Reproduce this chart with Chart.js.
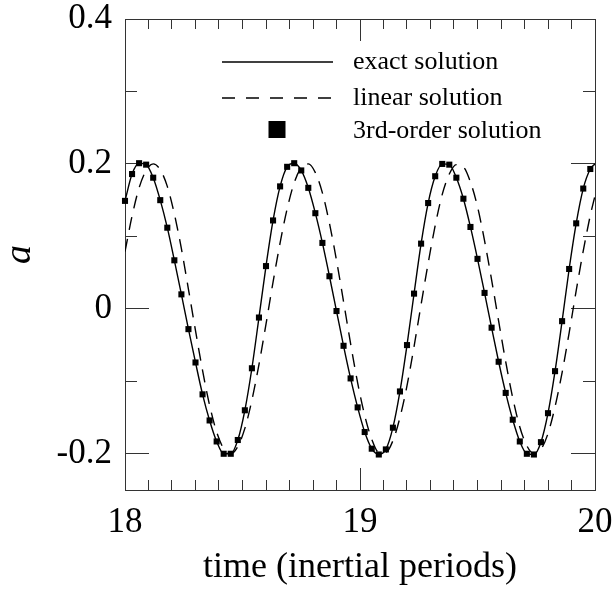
<!DOCTYPE html>
<html>
<head>
<meta charset="utf-8">
<script src="https://cdn.jsdelivr.net/npm/chart.js@4.4.1/dist/chart.umd.min.js"></script>
<style>
  html, body { margin: 0; padding: 0; background: #fff; }
  #wrap { width: 613px; height: 592px; }
</style>
</head>
<body>
<div id="wrap"><canvas id="chart" width="613" height="592"></canvas></div>
<script>
// time in inertial periods (one sample every 0.03, last one at the right edge)
const timeValues = [
  18.00, 18.03, 18.06, 18.09, 18.12, 18.15, 18.18, 18.21, 18.24, 18.27,
  18.30, 18.33, 18.36, 18.39, 18.42, 18.45, 18.48, 18.51, 18.54, 18.57,
  18.60, 18.63, 18.66, 18.69, 18.72, 18.75, 18.78, 18.81, 18.84, 18.87,
  18.90, 18.93, 18.96, 18.99, 19.02, 19.05, 19.08, 19.11, 19.14, 19.17,
  19.20, 19.23, 19.26, 19.29, 19.32, 19.35, 19.38, 19.41, 19.44, 19.47,
  19.50, 19.53, 19.56, 19.59, 19.62, 19.65, 19.68, 19.71, 19.74, 19.77,
  19.80, 19.83, 19.86, 19.89, 19.92, 19.95, 19.98, 20.00
];

// exact solution (solid line)
const exactValues = [
  0.149, 0.186, 0.201, 0.199, 0.181, 0.150, 0.112, 0.067, 0.020, -0.028,
  -0.074, -0.118, -0.154, -0.183, -0.200, -0.200, -0.181, -0.140, -0.082, -0.012,
  0.059, 0.122, 0.169, 0.196, 0.201, 0.191, 0.167, 0.132, 0.091, 0.045,
  -0.003, -0.051, -0.096, -0.136, -0.170, -0.193, -0.201, -0.194, -0.164, -0.114,
  -0.050, 0.021, 0.090, 0.146, 0.183, 0.200, 0.199, 0.181, 0.152, 0.113,
  0.069, 0.022, -0.026, -0.073, -0.116, -0.153, -0.183, -0.200, -0.201, -0.184,
  -0.144, -0.086, -0.017, 0.055, 0.118, 0.166, 0.193, 0.200
];

// linear solution (dashed line)
const linearValues = [
  0.079, 0.128, 0.167, 0.191, 0.200, 0.192, 0.169, 0.131, 0.083, 0.027,
  -0.030, -0.085, -0.133, -0.170, -0.193, -0.200, -0.190, -0.165, -0.126, -0.077,
  -0.021, 0.037, 0.091, 0.138, 0.174, 0.195, 0.200, 0.188, 0.160, 0.118,
  0.067, 0.010, -0.048, -0.102, -0.147, -0.180, -0.198, -0.198, -0.182, -0.150,
  -0.106, -0.052, 0.006, 0.063, 0.115, 0.158, 0.186, 0.199, 0.196, 0.175,
  0.141, 0.094, 0.040, -0.017, -0.073, -0.123, -0.163, -0.189, -0.200, -0.194,
  -0.172, -0.135, -0.088, -0.033, 0.025, 0.080, 0.129, 0.156
];

// 3rd-order solution (square markers, first 67 sample times)
const thirdOrderValues = [
  0.149, 0.186, 0.201, 0.199, 0.181, 0.150, 0.112, 0.067, 0.020, -0.028,
  -0.074, -0.118, -0.154, -0.183, -0.200, -0.200, -0.181, -0.140, -0.082, -0.012,
  0.059, 0.122, 0.169, 0.196, 0.201, 0.191, 0.167, 0.132, 0.091, 0.045,
  -0.003, -0.051, -0.096, -0.136, -0.170, -0.193, -0.201, -0.194, -0.164, -0.114,
  -0.050, 0.021, 0.090, 0.146, 0.183, 0.200, 0.199, 0.181, 0.152, 0.113,
  0.069, 0.022, -0.026, -0.073, -0.116, -0.153, -0.183, -0.200, -0.201, -0.184,
  -0.144, -0.086, -0.017, 0.055, 0.118, 0.166, 0.193
];

const xLabelValues = [18, 19, 20];
const yLabelValues = [-0.2, 0, 0.2, 0.4];
const legendLabels = ['exact solution', 'linear solution', '3rd-order solution'];

const SERIF = "'Liberation Serif', 'Times New Roman', Times, serif";
const FRAME = '#333';
const DASH = [13, 9];

Chart.defaults.font.family = SERIF;
Chart.defaults.color = '#000';

const toPoints = (values) => values.map((v, i) => ({ x: timeValues[i], y: v }));

// legend drawn inside the plot, offsets from the chart area's top-left corner
const insideLegend = {
  id: 'insideLegend',
  afterDatasetsDraw(chart) {
    const { ctx, chartArea: a } = chart;
    const lineX0 = a.left + 97, lineX1 = a.left + 208;
    const textX = a.left + 228;
    const rows = [a.top + 43, a.top + 79, a.top + 110.5];
    const textRows = [a.top + 43.5, a.top + 79.5, a.top + 112];

    ctx.save();
    ctx.strokeStyle = '#000';
    ctx.lineWidth = 1.4;

    ctx.beginPath();
    ctx.moveTo(lineX0, rows[0]);
    ctx.lineTo(lineX1, rows[0]);
    ctx.stroke();

    ctx.setLineDash([13, 11]);
    ctx.beginPath();
    ctx.moveTo(lineX0, rows[1]);
    ctx.lineTo(lineX1, rows[1]);
    ctx.stroke();
    ctx.setLineDash([]);

    ctx.fillStyle = '#000';
    ctx.fillRect(a.left + 152 - 8.5, rows[2] - 8.5, 17, 17);

    ctx.font = '26px ' + SERIF;
    ctx.textAlign = 'left';
    ctx.textBaseline = 'middle';
    legendLabels.forEach((label, i) => ctx.fillText(label, textX, textRows[i]));
    ctx.restore();
  }
};

// axes that only add inward tick marks and take no room
function tickOnly(position, step, length, isX) {
  return {
    type: 'linear',
    position: position,
    weight: 0,
    min: isX ? 18 : -0.25,
    max: isX ? 20 : 0.4,
    ticks: { display: false, stepSize: step, autoSkip: false, includeBounds: false },
    grid: { drawOnChartArea: false, tickLength: length, tickColor: FRAME, tickWidth: 1 },
    border: { display: false },
    afterFit: isX ? (s) => { s.height = 0; } : (s) => { s.width = 0; }
  };
}

const xTop = tickOnly('top', 0.1, -10, true);
xTop.border = { display: true, color: FRAME, width: 1 };
const yRight = tickOnly('right', 0.1, -12, false);
yRight.border = { display: true, color: FRAME, width: 1 };

new Chart(document.getElementById('chart'), {
  type: 'line',
  data: {
    datasets: [
      {
        label: '3rd-order solution',
        data: thirdOrderValues.map((v, i) => ({ x: timeValues[i], y: v })),
        showLine: false,
        pointStyle: 'rect',
        pointRadius: 4.3,
        pointBackgroundColor: '#000',
        pointBorderWidth: 0,
        clip: false
      },
      {
        label: 'exact solution',
        data: toPoints(exactValues),
        borderColor: '#000',
        borderWidth: 1.4,
        pointRadius: 0,
        cubicInterpolationMode: 'monotone'
      },
      {
        label: 'linear solution',
        data: toPoints(linearValues),
        borderColor: '#000',
        borderWidth: 1.4,
        borderDash: DASH,
        pointRadius: 0,
        cubicInterpolationMode: 'monotone'
      }
    ]
  },
  options: {
    responsive: false,
    animation: false,
    events: [],
    layout: { padding: { left: 0, right: 18, top: 19, bottom: 0 } },
    plugins: { legend: { display: false }, tooltip: { enabled: false } },
    scales: {
      // labelled axes: no tick marks of their own, labels placed through lineHeight
      x: {
        type: 'linear',
        position: 'bottom',
        weight: 1,
        min: 18,
        max: 20,
        afterFit: (s) => { s.height = 102; },
        ticks: {
          stepSize: 1,
          autoSkip: false,
          maxRotation: 0,
          padding: 0,
          font: { size: 35, lineHeight: 1.85 },
          callback: (value) => {
            const v = Math.round(value * 10) / 10;
            return xLabelValues.includes(v) ? String(v) : '';
          }
        },
        grid: { drawOnChartArea: false, drawTicks: false },
        border: { display: true, color: FRAME, width: 1 },
        title: {
          display: true,
          text: 'time (inertial periods)',
          font: { size: 36, lineHeight: 1 },
          padding: { top: 0, bottom: 6 }
        }
      },
      xMinor: tickOnly('bottom', 0.1, -10, true),
      xMajor: tickOnly('bottom', 1, -22, true),
      xTop: xTop,
      xTopMajor: tickOnly('top', 1, -22, true),
      y: {
        type: 'linear',
        position: 'left',
        weight: 1,
        min: -0.25,
        max: 0.4,
        afterFit: (s) => { s.width = 125; },
        ticks: {
          stepSize: 0.2,
          includeBounds: false,
          autoSkip: false,
          padding: 13,
          font: { size: 35, lineHeight: 0.3 },
          callback: (value) => {
            const v = Math.round(value * 10) / 10;
            if (!yLabelValues.includes(v)) return '';
            return v === 0 ? '0' : v.toFixed(1);
          }
        },
        grid: { drawOnChartArea: false, drawTicks: false },
        border: { display: true, color: FRAME, width: 1 },
        title: {
          display: true,
          text: 'a',
          font: { size: 38, style: 'italic', lineHeight: 1 },
          padding: { top: 1, bottom: 0 }
        }
      },
      yMinor: tickOnly('left', 0.1, -12, false),
      yMajor: tickOnly('left', 0.2, -24, false),
      yRight: yRight,
      yRightMajor: tickOnly('right', 0.2, -24, false)
    }
  },
  plugins: [insideLegend]
});
</script>
</body>
</html>
